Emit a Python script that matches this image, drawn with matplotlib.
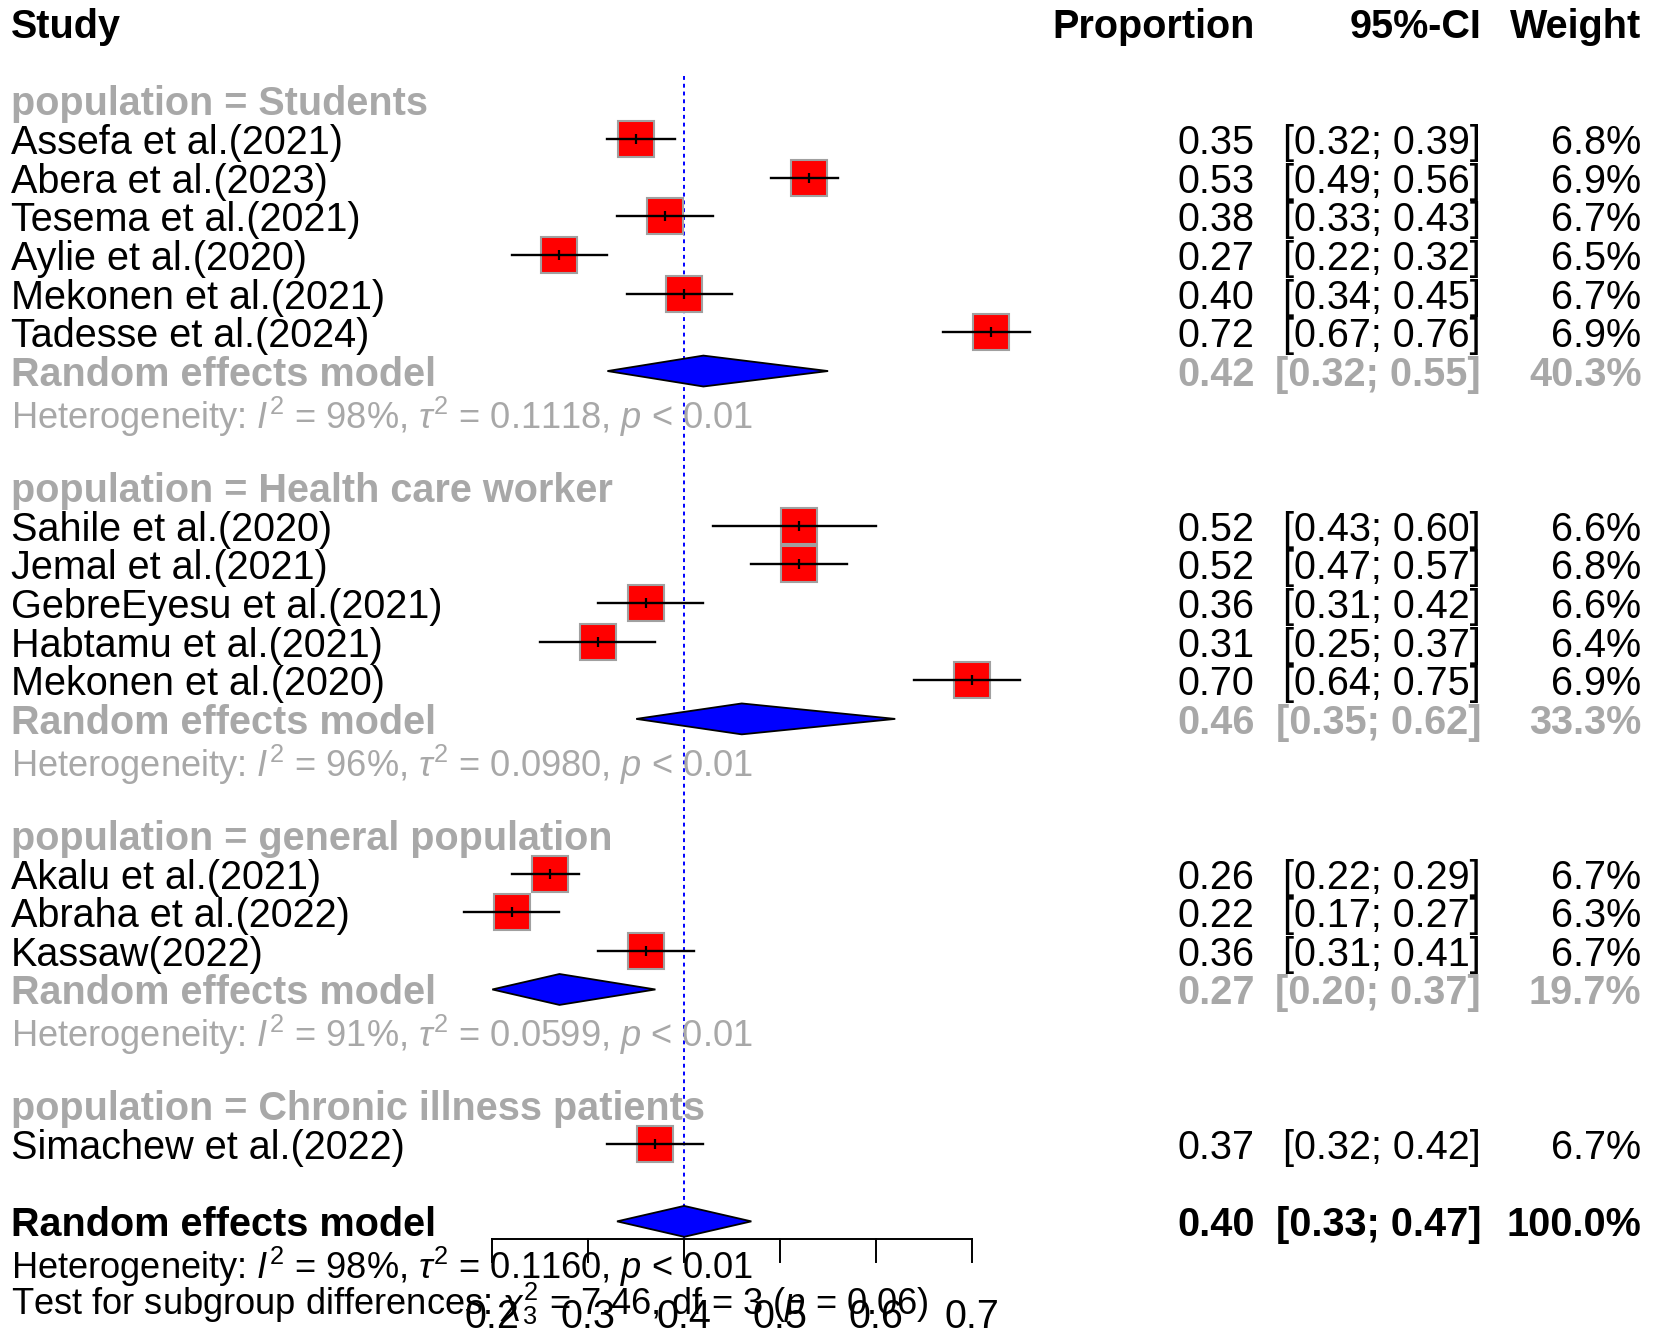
#!/usr/bin/python3

import matplotlib
matplotlib.use('Agg')
import matplotlib.pyplot as plt
from matplotlib.patches import Polygon
import numpy as np

# ---- data ----
groups = ['Students', 'Health care worker', 'general population', 'Chronic illness patients']

studies = [
    ['Assefa et al.(2021)', 'Abera et al.(2023)', 'Tesema et al.(2021)',
     'Aylie et al.(2020)', 'Mekonen et al.(2021)', 'Tadesse et al.(2024)'],
    ['Sahile et al.(2020)', 'Jemal et al.(2021)', 'GebreEyesu et al.(2021)',
     'Habtamu et al.(2021)', 'Mekonen et al.(2020)'],
    ['Akalu et al.(2021)', 'Abraha et al.(2022)', 'Kassaw(2022)'],
    ['Simachew et al.(2022)'],
]
prop = [[0.35, 0.53, 0.38, 0.27, 0.40, 0.72],
        [0.52, 0.52, 0.36, 0.31, 0.70],
        [0.26, 0.22, 0.36],
        [0.37]]
lower = [[0.32, 0.49, 0.33, 0.22, 0.34, 0.67],
         [0.43, 0.47, 0.31, 0.25, 0.64],
         [0.22, 0.17, 0.31],
         [0.32]]
upper = [[0.39, 0.56, 0.43, 0.32, 0.45, 0.76],
         [0.60, 0.57, 0.42, 0.37, 0.75],
         [0.29, 0.27, 0.41],
         [0.42]]
weight = [[6.8, 6.9, 6.7, 6.5, 6.7, 6.9],
          [6.6, 6.8, 6.6, 6.4, 6.9],
          [6.7, 6.3, 6.7],
          [6.7]]

# subgroup random effects (None for the single-study group)
sub_est = [0.42, 0.46, 0.27, None]
sub_lo = [0.32, 0.35, 0.20, None]
sub_hi = [0.55, 0.62, 0.37, None]
sub_w = [40.3, 33.3, 19.7, None]
sub_i2 = ['98%', '96%', '91%', None]
sub_tau2 = ['0.1118', '0.0980', '0.0599', None]

overall = (0.40, 0.33, 0.47, 100.0)
overall_i2 = '98%'
overall_tau2 = '0.1160'
test_chi2 = '7.46'
test_df = 3
test_p = '0.06'

ticks = [0.2, 0.3, 0.4, 0.5, 0.6, 0.7]

# ---- style ----
plt.rcParams['font.family'] = ['Liberation Sans', 'DejaVu Sans']
plt.rcParams['mathtext.fontset'] = 'custom'
plt.rcParams['mathtext.rm'] = 'Liberation Sans'
plt.rcParams['mathtext.it'] = 'Liberation Sans:italic'
plt.rcParams['mathtext.bf'] = 'Liberation Sans:bold'

FS = 28.5
FS_HET = 26.1
GREY = '#a8a8a8'

fig = plt.figure(figsize=(16.53, 13.35), dpi=100)
ax = fig.add_axes([0, 0, 1, 1])
ax.set_xlim(0.2 - 467 / 910, 0.2 + (1568 - 467) / 910)
ax.set_ylim(33.94, -0.60)
ax.axis('off')

tr = ax.get_yaxis_transform()  # x in axes fraction, y in rows
X_LAB = 0.0064
X_PROP = 0.759
X_CI = 0.896
X_W = 0.993


def cols(y, est, lo, hi, w, color='black', weight='normal'):
    ax.text(X_PROP, y, '%.2f' % est, transform=tr, ha='right', va='center_baseline',
            fontsize=FS, color=color, fontweight=weight)
    ax.text(X_CI, y, '[%.2f; %.2f]' % (lo, hi), transform=tr, ha='right', va='center_baseline',
            fontsize=FS, color=color, fontweight=weight)
    ax.text(X_W, y, '%.1f%%' % w, transform=tr, ha='right', va='center_baseline',
            fontsize=FS, color=color, fontweight=weight)


def diamond(y, est, lo, hi):
    h = 0.40
    ax.add_patch(Polygon([[lo, y], [est, y - h], [hi, y], [est, y + h]], closed=True,
                         facecolor='blue', edgecolor='black', lw=1.3, zorder=4))


# header
ax.text(X_LAB, 0, 'Study', transform=tr, ha='left', va='center_baseline', fontsize=FS, fontweight='bold')
ax.text(X_PROP, 0, 'Proportion', transform=tr, ha='right', va='center_baseline', fontsize=FS, fontweight='bold')
ax.text(X_CI, 0, '95%-CI', transform=tr, ha='right', va='center_baseline', fontsize=FS, fontweight='bold')
ax.text(X_W, 0, 'Weight', transform=tr, ha='right', va='center_baseline', fontsize=FS, fontweight='bold')

row = 2
for g in range(len(groups)):
    ax.text(X_LAB, row, 'population = ' + groups[g], transform=tr, ha='left', va='center_baseline',
            fontsize=FS, fontweight='bold', color=GREY)
    row += 1
    for i in range(len(studies[g])):
        ax.text(X_LAB, row, studies[g][i], transform=tr, ha='left', va='center_baseline', fontsize=FS)
        ax.plot(prop[g][i], row, marker='s', markersize=26 * np.sqrt(weight[g][i] / 6.6),
                markerfacecolor='red', markeredgecolor='#a0a0a0', markeredgewidth=1.5, zorder=3)
        ax.plot([lower[g][i], upper[g][i]], [row, row], color='black', lw=1.7, zorder=5)
        ax.plot(prop[g][i], row, marker='|', markersize=7, color='black', mew=1.6, zorder=6)
        cols(row, prop[g][i], lower[g][i], upper[g][i], weight[g][i])
        row += 1
    if sub_est[g] is not None:
        ax.text(X_LAB, row, 'Random effects model', transform=tr, ha='left', va='center_baseline',
                fontsize=FS, fontweight='bold', color=GREY)
        diamond(row, sub_est[g], sub_lo[g], sub_hi[g])
        cols(row, sub_est[g], sub_lo[g], sub_hi[g], sub_w[g], color=GREY, weight='bold')
        row += 1
        ax.text(X_LAB, row + 0.05,
                r'Heterogeneity: $I^2$ = %s, $\tau^2$ = %s, $p$ < 0.01' % (sub_i2[g], sub_tau2[g]),
                transform=tr, ha='left', va='center_baseline', fontsize=FS_HET, color=GREY)
        row += 1
    row += 1

# overall
ax.text(X_LAB, row, 'Random effects model', transform=tr, ha='left', va='center_baseline',
        fontsize=FS, fontweight='bold')
diamond(row, *overall[:3])
cols(row, *overall, weight='bold')
ax.text(X_LAB, row + 1.05,
        r'Heterogeneity: $I^2$ = %s, $\tau^2$ = %s, $p$ < 0.01' % (overall_i2, overall_tau2),
        transform=tr, ha='left', va='center_baseline', fontsize=FS_HET)
ax.text(X_LAB, row + 1.97,
        r'Test for subgroup differences: $\chi^2_{%d}$ = %s, df = %d ($p$ = %s)' % (test_df, test_chi2, test_df, test_p),
        transform=tr, ha='left', va='center_baseline', fontsize=FS_HET)

# reference line at overall estimate
ax.plot([overall[0], overall[0]], [1.36, row + 0.46], color='blue', lw=1.4,
        linestyle=(0, (2, 2)), zorder=2)

# x axis
ya = row + 0.46
ax.plot([ticks[0], ticks[-1]], [ya, ya], color='black', lw=1.4, zorder=5)
for t in ticks:
    ax.plot([t, t], [ya, ya + 0.6], color='black', lw=1.4, zorder=5)
    ax.text(t, ya + 1.9, '%.1f' % t, ha='center', va='center_baseline', fontsize=FS)

fig.savefig('out.png', dpi=100)
